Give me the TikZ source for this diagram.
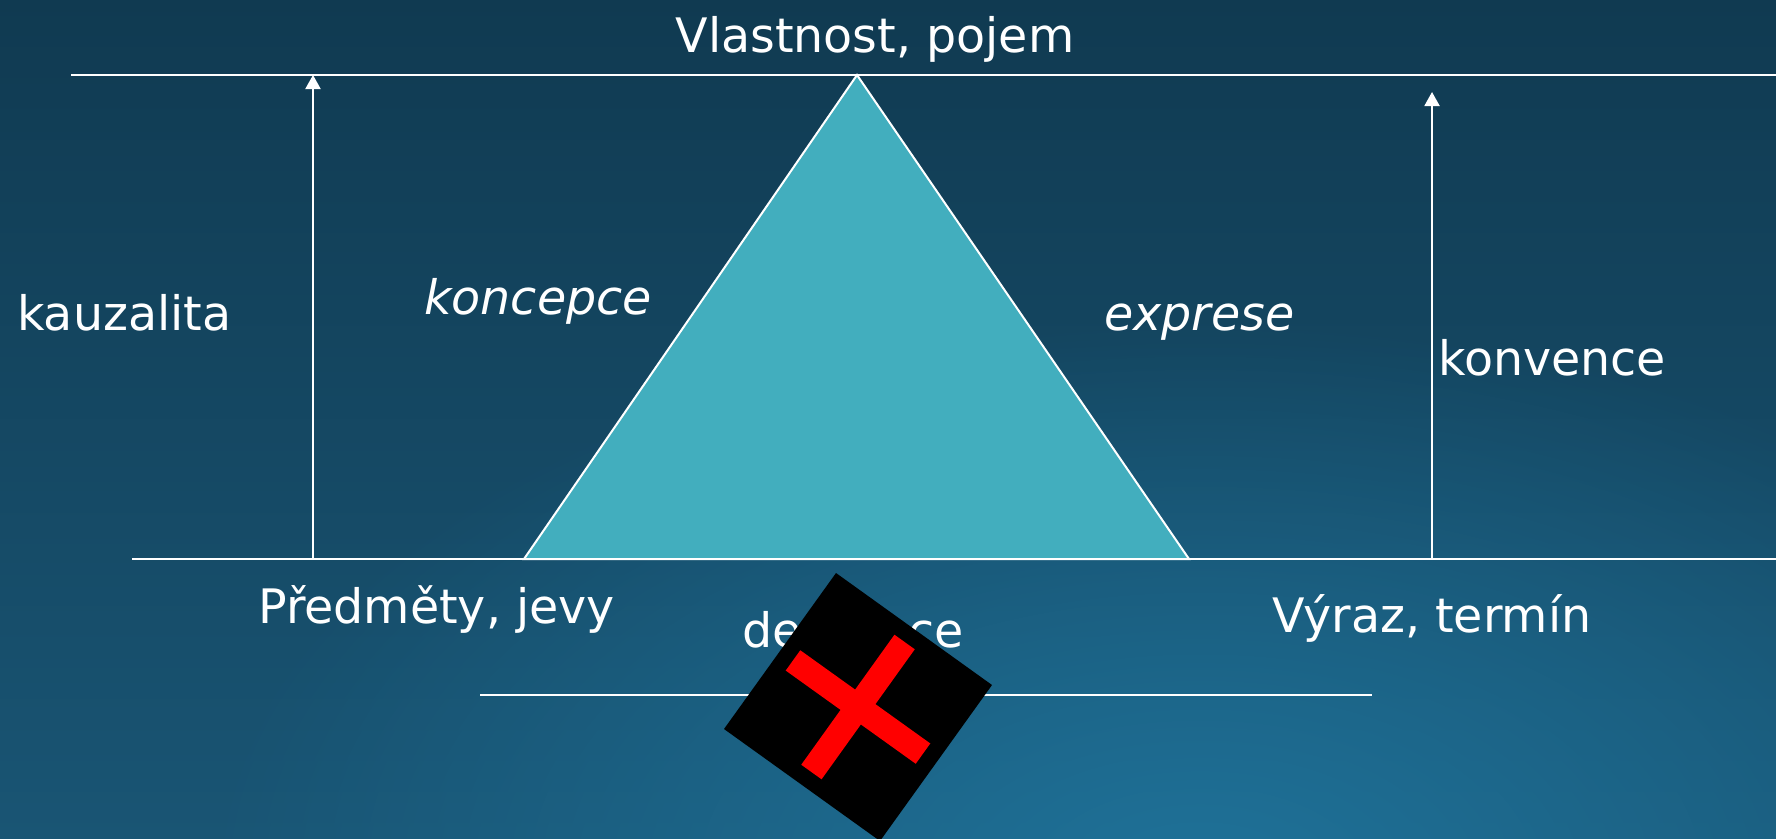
\documentclass[tikz,border=0pt]{standalone}
\usepackage{fontspec}
\setmainfont{DejaVu Sans}
\usetikzlibrary{arrows.meta,fadings}
\tikzfading[name=glowfade, inner color=transparent!0, outer color=transparent!100]
\definecolor{bgtop}{HTML}{103A51}
\definecolor{bgbot}{HTML}{195574}
\definecolor{bgglow}{HTML}{1F7299}
\definecolor{trifill}{HTML}{42AEBE}
\definecolor{xred}{HTML}{FF0000}
\begin{document}
\begin{tikzpicture}[x=1pt,y=-1pt,
  lbl/.style={text=white, font=\fontsize{47.5}{57}\selectfont, inner sep=0pt},
  ilbl/.style={lbl, font=\fontsize{47.5}{57}\selectfont\itshape},
  rule/.style={draw=white, line width=2pt},
  uparrow/.style={draw=white, line width=2pt, -{Triangle[width=15pt,length=14pt]}},
  tri/.style={fill=trifill, draw=white, line width=2pt, line join=miter},
  redbar/.style={draw=xred, line width=25pt, line cap=butt}]
\useasboundingbox (0,0) rectangle (1776,838);
\begin{scope}
\clip (0,0) rectangle (1776,838);
% background
\fill[top color=bgtop, bottom color=bgbot] (0,0) rectangle (1776,838);
\fill[bgglow, path fading=glowfade] (1200,880) ellipse [x radius=1000, y radius=560];

% horizontal rules
\coordinate (tl) at (71,75);   \coordinate (tr) at (1776,75);
\coordinate (bl) at (132,559); \coordinate (br) at (1776,559);
\coordinate (ll) at (480,695); \coordinate (lr) at (1372,695);
\draw[rule] (tl) -- (tr);
\draw[rule] (bl) -- (br);
\draw[rule] (ll) -- (lr);

% triangle
\coordinate (apex) at (857,75);
\coordinate (bleft) at (524,559);
\coordinate (bright) at (1189,559);
\filldraw[tri] (bleft) -- (apex) -- (bright) -- cycle;

% arrows
\coordinate (ka) at (313,559); \coordinate (kb) at (313,75);
\coordinate (ca) at (1432,559); \coordinate (cb) at (1432,92);
\draw[uparrow] (ka) -- (kb);
\draw[uparrow] (ca) -- (cb);

% labels
\node[lbl, anchor=base] (vlast) at (875,52) {Vlastnost, pojem};
\node[lbl, anchor=base west] (kauz) at (17,330) {kauzalita};
\node[ilbl, anchor=base west] (konc) at (424,314) {koncepce};
\node[ilbl, anchor=base west] (expr) at (1104,330) {exprese};
\node[lbl, anchor=base west] (konv) at (1438,375) {konvence};
\node[lbl, anchor=base west] (pred) at (258,623) {Předměty, jevy};
\node[lbl, anchor=base west] (vyraz) at (1272,632) {Výraz, termín};
\node[lbl, anchor=base west] (denot) at (742,647) {denotace};

% black box with red cross
\coordinate (xt) at (836,573);
\coordinate (xr) at (992,685);
\coordinate (xb) at (880,841);
\coordinate (xl) at (724,729);
\fill[black] (xt) -- (xr) -- (xb) -- (xl) -- cycle;
\coordinate (r1a) at (793,660.4); \coordinate (r1b) at (923,753.6);
\coordinate (r2a) at (904.6,642); \coordinate (r2b) at (811.4,772);
\draw[redbar] (r1a) -- (r1b);
\draw[redbar] (r2a) -- (r2b);
\end{scope}
\end{tikzpicture}
\end{document}
